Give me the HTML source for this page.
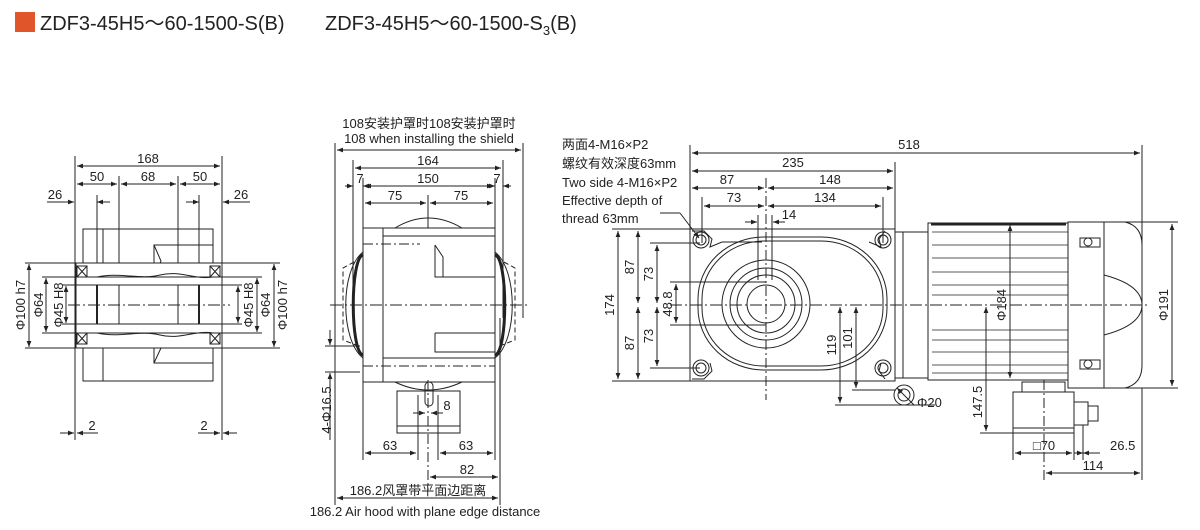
<!DOCTYPE html>
<html><head><meta charset="utf-8"><style>
html,body{margin:0;padding:0;background:#fff;}
svg{display:block;}
text{font-family:"Liberation Sans Narrow","Liberation Sans","Noto Sans CJK SC",sans-serif;fill:#222;}
.t{font-size:13px;}
</style></head><body>
<svg width="1200" height="530" viewBox="0 0 1200 530" xmlns="http://www.w3.org/2000/svg">
<defs>
<marker id="a" viewBox="0 0 10 10" refX="10" refY="5" markerWidth="8" markerHeight="6" orient="auto-start-reverse" markerUnits="userSpaceOnUse"><path d="M0,1 L10,5 L0,9z" fill="#222"/></marker>
</defs>
<rect x="15" y="12" width="20" height="20" fill="#e0562a"/>
<text x="40" y="30" style="font-size:20px">ZDF3-45H5～60-1500-S(B)</text>
<text x="325" y="30" style="font-size:20px">ZDF3-45H5～60-1500-S<tspan font-size="13" dy="5">3</tspan><tspan dy="-5">(B)</tspan></text>

<g stroke="#222" stroke-width="1" fill="none">
<!-- LEFT VIEW -->
<line x1="75" y1="156" x2="75" y2="440"/><line x1="222" y1="156" x2="222" y2="440"/>
<line x1="119" y1="176" x2="119" y2="330"/><line x1="178" y1="176" x2="178" y2="330"/>
<line x1="97" y1="195" x2="97" y2="330"/><line x1="199" y1="195" x2="199" y2="330"/>
<line x1="77" y1="166" x2="220" y2="166" marker-start="url(#a)" marker-end="url(#a)"/>
<line x1="77" y1="184" x2="117" y2="184" marker-start="url(#a)" marker-end="url(#a)"/>
<line x1="121" y1="184" x2="176" y2="184" marker-start="url(#a)" marker-end="url(#a)"/>
<line x1="180" y1="184" x2="220" y2="184" marker-start="url(#a)" marker-end="url(#a)"/>
<line x1="47" y1="202" x2="74" y2="202" marker-end="url(#a)"/><line x1="97" y1="202" x2="110" y2="202" marker-start="url(#a)"/>
<line x1="186" y1="202" x2="199" y2="202" marker-end="url(#a)"/><line x1="223" y1="202" x2="250" y2="202" marker-start="url(#a)"/>
<rect x="83" y="229" width="130" height="152"/>
<line x1="103" y1="229" x2="103" y2="381"/>
<path d="M213,245 H154 V278 H213 M154,245 l7,16 l-7,17 M213,333 H154 V363 H213 M154,333 l7,15 l-7,15"/>
<rect x="76" y="263" width="146" height="85" fill="#fff"/>
<line x1="76" y1="277" x2="222" y2="277"/><line x1="76" y1="333" x2="222" y2="333"/>
<line x1="76" y1="285" x2="222" y2="285"/><line x1="76" y1="324" x2="222" y2="324"/>
<line x1="97" y1="285" x2="97" y2="324" stroke-width="2"/><line x1="119" y1="285" x2="119" y2="324"/><line x1="178" y1="285" x2="178" y2="324"/><line x1="199" y1="285" x2="199" y2="324" stroke-width="2"/>
<path d="M97,277 C120,272 140,280 160,275 S195,280 213,277 M97,333 C120,338 140,330 160,335 S195,330 213,333"/>
<rect x="77" y="266" width="10" height="11"/><path d="M77,266 l10,11 M87,266 l-10,11"/>
<rect x="77" y="333" width="10" height="11"/><path d="M77,333 l10,11 M87,333 l-10,11"/>
<rect x="210" y="266" width="10" height="11"/><path d="M210,266 l10,11 M220,266 l-10,11"/>
<rect x="210" y="333" width="10" height="11"/><path d="M210,333 l10,11 M220,333 l-10,11"/>
<line x1="68" y1="305" x2="230" y2="305" stroke-dasharray="12,3,2,3"/>
<line x1="25" y1="263" x2="76" y2="263"/><line x1="25" y1="348" x2="76" y2="348"/>
<line x1="222" y1="263" x2="280" y2="263"/><line x1="222" y1="348" x2="280" y2="348"/>
<line x1="42" y1="277" x2="76" y2="277"/><line x1="42" y1="333" x2="76" y2="333"/>
<line x1="222" y1="277" x2="262" y2="277"/><line x1="222" y1="333" x2="262" y2="333"/>
<line x1="62" y1="285" x2="76" y2="285"/><line x1="62" y1="324" x2="76" y2="324"/>
<line x1="222" y1="285" x2="242" y2="285"/><line x1="222" y1="324" x2="242" y2="324"/>
<line x1="29" y1="264" x2="29" y2="347" marker-start="url(#a)" marker-end="url(#a)"/>
<line x1="274" y1="264" x2="274" y2="347" marker-start="url(#a)" marker-end="url(#a)"/>
<line x1="46" y1="278" x2="46" y2="332" marker-start="url(#a)" marker-end="url(#a)"/>
<line x1="257" y1="278" x2="257" y2="332" marker-start="url(#a)" marker-end="url(#a)"/>
<line x1="66" y1="286" x2="66" y2="323" marker-start="url(#a)" marker-end="url(#a)"/>
<line x1="238" y1="286" x2="238" y2="323" marker-start="url(#a)" marker-end="url(#a)"/>
<line x1="60" y1="433" x2="74" y2="433" marker-end="url(#a)"/><line x1="77" y1="433" x2="98" y2="433" marker-start="url(#a)"/>
<line x1="198" y1="433" x2="220" y2="433" marker-end="url(#a)"/><line x1="223" y1="433" x2="237" y2="433" marker-start="url(#a)"/>

<!-- MIDDLE VIEW -->
<line x1="335" y1="143" x2="335" y2="505"/><line x1="523" y1="143" x2="523" y2="318"/>
<line x1="353" y1="160" x2="353" y2="318"/><line x1="503" y1="160" x2="503" y2="318"/>
<line x1="363" y1="178" x2="363" y2="228"/><line x1="495" y1="178" x2="495" y2="228"/>
<line x1="428" y1="195" x2="428" y2="228"/>
<line x1="337" y1="150" x2="521" y2="150" marker-start="url(#a)" marker-end="url(#a)"/>
<line x1="355" y1="168" x2="501" y2="168" marker-start="url(#a)" marker-end="url(#a)"/>
<line x1="345" y1="186" x2="353" y2="186" marker-end="url(#a)"/><line x1="363" y1="186" x2="371" y2="186" marker-start="url(#a)"/>
<line x1="365" y1="186" x2="493" y2="186" marker-start="url(#a)" marker-end="url(#a)"/>
<line x1="487" y1="186" x2="495" y2="186" marker-end="url(#a)"/><line x1="503" y1="186" x2="511" y2="186" marker-start="url(#a)"/>
<line x1="365" y1="203" x2="426" y2="203" marker-start="url(#a)" marker-end="url(#a)"/>
<line x1="430" y1="203" x2="493" y2="203" marker-start="url(#a)" marker-end="url(#a)"/>
<path d="M395,228 Q428,208 462,228"/>
<path d="M395,382 Q428,398 462,382"/>
<path d="M363,252 C340,270 340,340 363,358 M495,252 C518,270 518,340 495,358"/>
<path d="M363,255 C350,258 350,352 363,355 M495,255 C508,258 508,352 495,355" stroke-width="3"/>
<path d="M354,262 L343,268 L343,340 L356,345 M504,262 L515,268 L515,340 L502,345" stroke-dasharray="5,3"/>
<rect x="363" y="228" width="132" height="154" fill="none"/>
<line x1="383" y1="228" x2="383" y2="382"/>
<line x1="383" y1="236" x2="495" y2="236"/><line x1="383" y1="358" x2="495" y2="358"/>
<line x1="363" y1="244" x2="420" y2="244" stroke-dasharray="10,3,2,3"/><line x1="363" y1="366" x2="495" y2="366" stroke-dasharray="10,3,2,3"/>
<path d="M435,245 V277 H495 M435,245 l8,12 v20 M435,333 V352 H495 M435,333 H495"/>
<line x1="330" y1="305" x2="530" y2="305" stroke-dasharray="12,3,2,3"/>
<rect x="397" y="391" width="63" height="42"/>
<line x1="397" y1="426" x2="460" y2="426"/>
<rect x="425" y="382" width="8" height="24" rx="4"/>
<line x1="428" y1="380" x2="428" y2="490" stroke-dasharray="10,3,2,3"/>
<line x1="325" y1="346" x2="360" y2="346"/><line x1="325" y1="372" x2="360" y2="372"/>
<line x1="330" y1="330" x2="330" y2="345" marker-end="url(#a)"/><line x1="330" y1="373" x2="330" y2="440" marker-start="url(#a)"/>
<line x1="363" y1="382" x2="363" y2="460"/><line x1="418" y1="395" x2="418" y2="460"/><line x1="438" y1="395" x2="438" y2="460"/><line x1="495" y1="382" x2="495" y2="460"/>
<line x1="413" y1="413" x2="425" y2="413" marker-end="url(#a)"/><line x1="431" y1="413" x2="443" y2="413" marker-start="url(#a)"/>
<line x1="365" y1="453" x2="416" y2="453" marker-start="url(#a)" marker-end="url(#a)"/>
<line x1="440" y1="453" x2="493" y2="453" marker-start="url(#a)" marker-end="url(#a)"/>
<line x1="500" y1="318" x2="500" y2="505"/>
<line x1="430" y1="477" x2="498" y2="477" marker-start="url(#a)" marker-end="url(#a)"/>
<line x1="337" y1="498" x2="498" y2="498" marker-start="url(#a)" marker-end="url(#a)"/>

<!-- RIGHT VIEW -->
<line x1="690" y1="145" x2="690" y2="229"/><line x1="1142" y1="145" x2="1142" y2="300"/>
<line x1="895" y1="162" x2="895" y2="229"/><line x1="766" y1="178" x2="766" y2="400" stroke-dasharray="10,3,2,3"/>
<line x1="702" y1="197" x2="702" y2="243"/><line x1="883" y1="197" x2="883" y2="243"/>
<line x1="758" y1="215" x2="758" y2="280"/><line x1="772" y1="215" x2="772" y2="280"/>
<line x1="692" y1="153" x2="1140" y2="153" marker-start="url(#a)" marker-end="url(#a)"/>
<line x1="692" y1="171" x2="893" y2="171" marker-start="url(#a)" marker-end="url(#a)"/>
<line x1="692" y1="188" x2="764" y2="188" marker-start="url(#a)" marker-end="url(#a)"/>
<line x1="768" y1="188" x2="893" y2="188" marker-start="url(#a)" marker-end="url(#a)"/>
<line x1="704" y1="206" x2="764" y2="206" marker-start="url(#a)" marker-end="url(#a)"/>
<line x1="768" y1="206" x2="881" y2="206" marker-start="url(#a)" marker-end="url(#a)"/>
<line x1="745" y1="222" x2="757" y2="222" marker-end="url(#a)"/><line x1="773" y1="222" x2="785" y2="222" marker-start="url(#a)"/>
<path d="M690,229 H895 V381 H690 Z"/>
<path d="M692,231 l12,0 l8,8 l-2,8 l12,-5 l40,0 M895,231 m-10,0 l-6,8 l2,8 l-12,-5 M692,379 l12,0 l8,-8 l-2,-8 M885,379 l-6,-8 l2,-8"/>
<rect x="698" y="237" width="189" height="133" rx="66" ry="62"/>
<rect x="702" y="241" width="181" height="125" rx="62" ry="58"/>
<circle cx="766" cy="304" r="44"/><circle cx="766" cy="304" r="36"/><circle cx="766" cy="304" r="29"/><circle cx="766" cy="304" r="19"/>
<circle cx="701" cy="240" r="8"/><circle cx="701" cy="240" r="5"/>
<circle cx="883" cy="240" r="8"/><circle cx="883" cy="240" r="5"/>
<circle cx="701" cy="368" r="8"/><circle cx="701" cy="368" r="5"/>
<circle cx="883" cy="368" r="8"/><circle cx="883" cy="368" r="5"/>
<line x1="680" y1="213" x2="699" y2="238" marker-end="url(#a)"/>
<path d="M660,213 H680"/>
<rect x="895" y="232" width="33" height="146"/><line x1="903" y1="232" x2="903" y2="378"/>
<rect x="928" y="223" width="140" height="157"/>
<g stroke-width="0.8">
<line x1="932" y1="232" x2="1068" y2="232"/><line x1="932" y1="245" x2="1068" y2="245"/><line x1="932" y1="258" x2="1068" y2="258"/><line x1="932" y1="272" x2="1068" y2="272"/><line x1="932" y1="285" x2="1068" y2="285"/><line x1="932" y1="295" x2="1068" y2="295"/><line x1="932" y1="330" x2="1068" y2="330"/><line x1="932" y1="340" x2="1068" y2="340"/><line x1="932" y1="352" x2="1068" y2="352"/><line x1="932" y1="365" x2="1068" y2="365"/><line x1="932" y1="373" x2="1068" y2="373"/>
</g>
<line x1="931" y1="224" x2="1066" y2="224" stroke-width="3"/>
<rect x="1068" y="222" width="36" height="166"/>
<path d="M1104,222 H1125 Q1142,226 1142,245 V365 Q1142,384 1125,388 H1104"/>
<path d="M1104,275 Q1142,285 1142,305 Q1142,325 1104,335"/>
<rect x="1080" y="238" width="20" height="9"/><circle cx="1088" cy="242" r="4"/>
<rect x="1080" y="360" width="20" height="9"/><circle cx="1088" cy="364" r="4"/>
<rect x="1022" y="382" width="43" height="10"/>
<rect x="1013" y="392" width="61" height="41"/>
<line x1="1013" y1="428" x2="1074" y2="428"/>
<rect x="1074" y="402" width="14" height="23"/><rect x="1088" y="406" width="10" height="15"/>
<circle cx="904" cy="395" r="10"/><circle cx="904" cy="395" r="6"/>
<line x1="670" y1="305" x2="1150" y2="305" stroke-dasharray="12,3,2,3"/>
<line x1="1044" y1="380" x2="1044" y2="480" stroke-dasharray="10,3,2,3"/>
<!-- left vertical dims -->
<line x1="612" y1="229" x2="690" y2="229"/><line x1="612" y1="381" x2="690" y2="381"/>
<line x1="650" y1="243" x2="700" y2="243"/><line x1="650" y1="368" x2="700" y2="368"/>
<line x1="670" y1="282" x2="766" y2="282"/><line x1="670" y1="325" x2="766" y2="325"/>
<line x1="618" y1="231" x2="618" y2="379" marker-start="url(#a)" marker-end="url(#a)"/>
<line x1="638" y1="231" x2="638" y2="303" marker-start="url(#a)" marker-end="url(#a)"/>
<line x1="638" y1="307" x2="638" y2="379" marker-start="url(#a)" marker-end="url(#a)"/>
<line x1="657" y1="245" x2="657" y2="303" marker-start="url(#a)" marker-end="url(#a)"/>
<line x1="657" y1="307" x2="657" y2="366" marker-start="url(#a)" marker-end="url(#a)"/>
<line x1="676" y1="284" x2="676" y2="323" marker-start="url(#a)" marker-end="url(#a)"/>
<line x1="840" y1="307" x2="840" y2="403" marker-start="url(#a)" marker-end="url(#a)"/>
<line x1="856" y1="307" x2="856" y2="388" marker-start="url(#a)" marker-end="url(#a)"/>
<line x1="835" y1="405" x2="935" y2="405"/><line x1="852" y1="390" x2="895" y2="390"/>
<line x1="897" y1="388" x2="914" y2="405" marker-start="url(#a)"/>
<line x1="1010" y1="225" x2="1010" y2="378" marker-start="url(#a)" marker-end="url(#a)"/>
<line x1="1172" y1="224" x2="1172" y2="386" marker-start="url(#a)" marker-end="url(#a)"/>
<line x1="1104" y1="222" x2="1178" y2="222"/><line x1="1104" y1="388" x2="1178" y2="388"/>
<line x1="986" y1="307" x2="986" y2="431" marker-start="url(#a)" marker-end="url(#a)"/>
<line x1="980" y1="433" x2="1013" y2="433"/>
<line x1="1013" y1="433" x2="1013" y2="460"/><line x1="1074" y1="425" x2="1074" y2="460"/><line x1="1083" y1="425" x2="1083" y2="460"/>
<line x1="1015" y1="453" x2="1072" y2="453" marker-start="url(#a)" marker-end="url(#a)"/>
<line x1="1074" y1="453" x2="1083" y2="453" marker-end="url(#a)"/><line x1="1083" y1="453" x2="1100" y2="453" marker-start="url(#a)"/>
<line x1="1142" y1="388" x2="1142" y2="480"/>
<line x1="1046" y1="473" x2="1140" y2="473" marker-start="url(#a)" marker-end="url(#a)"/>
</g>

<g class="t">
<!-- left -->
<text x="148" y="163" text-anchor="middle">168</text>
<text x="97" y="181" text-anchor="middle">50</text><text x="148" y="181" text-anchor="middle">68</text><text x="200" y="181" text-anchor="middle">50</text>
<text x="55" y="199" text-anchor="middle">26</text><text x="241" y="199" text-anchor="middle">26</text>
<text x="92" y="430" text-anchor="middle">2</text><text x="204" y="430" text-anchor="middle">2</text>
<text transform="translate(25,305) rotate(-90)" text-anchor="middle">Φ100 h7</text>
<text transform="translate(43,305) rotate(-90)" text-anchor="middle">Φ64</text>
<text transform="translate(63,305) rotate(-90)" text-anchor="middle">Φ45 H8</text>
<text transform="translate(253,305) rotate(-90)" text-anchor="middle">Φ45 H8</text>
<text transform="translate(270,305) rotate(-90)" text-anchor="middle">Φ64</text>
<text transform="translate(287,305) rotate(-90)" text-anchor="middle">Φ100 h7</text>
<!-- middle -->
<text x="429" y="128" text-anchor="middle">108安装护罩时108安装护罩时</text>
<text x="429" y="143" text-anchor="middle">108 when installing the shield</text>
<text x="428" y="165" text-anchor="middle">164</text>
<text x="360" y="183" text-anchor="middle">7</text><text x="428" y="183" text-anchor="middle">150</text><text x="497" y="183" text-anchor="middle">7</text>
<text x="395" y="200" text-anchor="middle">75</text><text x="461" y="200" text-anchor="middle">75</text>
<text x="447" y="410" text-anchor="middle">8</text>
<text x="390" y="450" text-anchor="middle">63</text><text x="466" y="450" text-anchor="middle">63</text>
<text x="467" y="474" text-anchor="middle">82</text>
<text x="418" y="495" text-anchor="middle">186.2风罩带平面边距离</text>
<text x="425" y="516" text-anchor="middle">186.2 Air hood with plane edge distance</text>
<text transform="translate(331,410) rotate(-90)" text-anchor="middle">4-Φ16.5</text>
<!-- right -->
<text x="562" y="149">两面4-M16×P2</text>
<text x="562" y="168">螺纹有效深度63mm</text>
<text x="562" y="187">Two side 4-M16×P2</text>
<text x="562" y="205">Effective depth of</text>
<text x="562" y="223">thread 63mm</text>
<text x="909" y="149" text-anchor="middle">518</text>
<text x="793" y="167" text-anchor="middle">235</text>
<text x="727" y="184" text-anchor="middle">87</text><text x="830" y="184" text-anchor="middle">148</text>
<text x="734" y="202" text-anchor="middle">73</text><text x="825" y="202" text-anchor="middle">134</text>
<text x="789" y="219" text-anchor="middle">14</text>
<text transform="translate(614,305) rotate(-90)" text-anchor="middle">174</text>
<text transform="translate(634,267) rotate(-90)" text-anchor="middle">87</text>
<text transform="translate(634,343) rotate(-90)" text-anchor="middle">87</text>
<text transform="translate(653,274) rotate(-90)" text-anchor="middle">73</text>
<text transform="translate(653,336) rotate(-90)" text-anchor="middle">73</text>
<text transform="translate(672,304) rotate(-90)" text-anchor="middle">48.8</text>
<text transform="translate(836,345) rotate(-90)" text-anchor="middle">119</text>
<text transform="translate(852,338) rotate(-90)" text-anchor="middle">101</text>
<text transform="translate(1006,305) rotate(-90)" text-anchor="middle">Φ184</text>
<text transform="translate(1168,305) rotate(-90)" text-anchor="middle">Φ191</text>
<text transform="translate(982,402) rotate(-90)" text-anchor="middle">147.5</text>
<text x="917" y="407">Φ20</text>
<text x="1044" y="450" text-anchor="middle">□70</text>
<text x="1110" y="450">26.5</text>
<text x="1093" y="470" text-anchor="middle">114</text>
</g>
</svg>
</body></html>
